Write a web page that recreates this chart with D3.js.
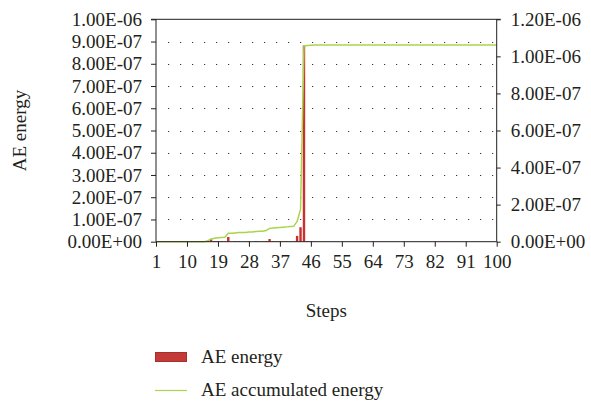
<!DOCTYPE html>
<html>
<head>
<meta charset="utf-8">
<script src="https://cdn.jsdelivr.net/npm/d3@7"></script>
<style>
  body { margin: 0; background: #fff; }
  svg { display: block; }
  text { font-family: "Liberation Serif", "Times New Roman", serif; fill: #231f20; }
</style>
</head>
<body>
<div id="chart"></div>
<script>
// steps 1..100
let steps = d3.range(1, 101);

// AE energy per step (left axis)
let aeEnergy = [
  0, 0, 0, 0, 0, 0, 0, 0, 0, 0,
  0, 0, 0, 0, 0, 4e-9, 1.1e-8, 3e-9, 3e-9, 2e-9,
  1e-9, 2.1e-8, 0, 2e-9, 2e-9, 0, 1e-9, 2e-9, 0, 3e-9,
  1e-9, 1e-9, 3e-9, 1.2e-8, 2e-9, 1.5e-9, 1.5e-9, 1.5e-9, 1.5e-9, 1.5e-9,
  1.5e-9, 2.6e-8, 6.5e-8, 8.82e-7, 2e-9, 2e-9, 1e-9, 0, 0, 0,
  0, 0, 0, 0, 0, 0, 0, 0, 0, 0,
  0, 0, 0, 0, 0, 0, 0, 0, 0, 0,
  0, 0, 0, 0, 0, 0, 0, 0, 0, 0,
  0, 0, 0, 0, 0, 0, 0, 0, 0, 0,
  0, 0, 0, 0, 0, 0, 0, 0, 0, 0
];

// AE accumulated energy (right axis)
let aeAccum = [
  0, 0, 0, 0, 0, 0, 0, 0, 0, 0,
  0, 0, 0, 0, 0, 4e-9, 1.5e-8, 1.8e-8, 2.1e-8, 2.3e-8,
  2.4e-8, 4.5e-8, 4.5e-8, 4.7e-8, 4.9e-8, 4.9e-8, 5.0e-8, 5.2e-8, 5.2e-8, 5.5e-8,
  5.6e-8, 5.7e-8, 6.0e-8, 7.2e-8, 7.4e-8, 7.55e-8, 7.7e-8, 7.85e-8, 8.0e-8, 8.15e-8,
  8.3e-8, 1.09e-7, 1.74e-7, 1.056e-6, 1.058e-6, 1.06e-6, 1.061e-6, 1.061e-6, 1.061e-6, 1.061e-6,
  1.061e-6, 1.061e-6, 1.061e-6, 1.061e-6, 1.061e-6, 1.061e-6, 1.061e-6, 1.061e-6, 1.061e-6, 1.061e-6,
  1.061e-6, 1.061e-6, 1.061e-6, 1.061e-6, 1.061e-6, 1.061e-6, 1.061e-6, 1.061e-6, 1.061e-6, 1.061e-6,
  1.061e-6, 1.061e-6, 1.061e-6, 1.061e-6, 1.061e-6, 1.061e-6, 1.061e-6, 1.061e-6, 1.061e-6, 1.061e-6,
  1.061e-6, 1.061e-6, 1.061e-6, 1.061e-6, 1.061e-6, 1.061e-6, 1.061e-6, 1.061e-6, 1.061e-6, 1.061e-6,
  1.061e-6, 1.061e-6, 1.061e-6, 1.061e-6, 1.061e-6, 1.061e-6, 1.061e-6, 1.061e-6, 1.061e-6, 1.061e-6
];

// tick values and labels
let xTicks = [1, 10, 19, 28, 37, 46, 55, 64, 73, 82, 91, 100];
let leftTicks = [0, 1e-7, 2e-7, 3e-7, 4e-7, 5e-7, 6e-7, 7e-7, 8e-7, 9e-7, 1e-6];
let leftLabels = ["0.00E+00", "1.00E-07", "2.00E-07", "3.00E-07", "4.00E-07", "5.00E-07",
                  "6.00E-07", "7.00E-07", "8.00E-07", "9.00E-07", "1.00E-06"];
let rightTicks = [0, 2e-7, 4e-7, 6e-7, 8e-7, 1e-6, 1.2e-6];
let rightLabels = ["0.00E+00", "2.00E-07", "4.00E-07", "6.00E-07", "8.00E-07", "1.00E-06", "1.20E-06"];

let w = 591;
let h = 404;
let plotL = 156, plotR = 496.7, plotT = 19.3, plotB = 241.7;

let svg = d3.select("#chart")
    .append("svg")
    .attr("width", w)
    .attr("height", h);

let x = d3.scaleLinear().domain([1, 100]).range([plotL, plotR]);
let yL = d3.scaleLinear().domain([0, 1e-6]).range([plotB, plotT]);
let yR = d3.scaleLinear().domain([0, 1.2e-6]).range([plotB, plotT]);

// dotted gridlines
svg.append("g")
    .selectAll("line")
    .data(leftTicks.slice(1, -1))
    .enter()
    .append("line")
    .attr("x1", plotL + 12)
    .attr("x2", plotR - 2)
    .attr("y1", d => Math.round(yL(d)) + 0.5)
    .attr("y2", d => Math.round(yL(d)) + 0.5)
    .attr("stroke", "#333")
    .attr("stroke-width", 1)
    .attr("stroke-dasharray", "1.2,10.8");

// top line
svg.append("line")
    .attr("x1", plotL - 5).attr("x2", plotR + 4)
    .attr("y1", yL(1e-6)).attr("y2", yL(1e-6))
    .attr("stroke", "#231f20").attr("stroke-width", 1);

// bars
let barW = 2.4;
svg.append("g")
    .selectAll("rect")
    .data(steps.filter((s, i) => aeEnergy[i] > 0))
    .enter()
    .append("rect")
    .attr("x", d => x(d) - barW / 2)
    .attr("y", d => yL(aeEnergy[d - 1]))
    .attr("width", barW)
    .attr("height", d => plotB - yL(aeEnergy[d - 1]))
    .attr("fill", "#c9302a");

// accumulated line
let line = d3.line()
    .x((d, i) => x(steps[i]))
    .y(d => yR(d));

svg.append("path")
    .datum(aeAccum)
    .attr("d", line)
    .attr("fill", "none")
    .attr("stroke", "#a9d44c")
    .attr("stroke-width", 1.5);

// axes
let fontSize = "19px";

let xAxis = d3.axisBottom(x)
    .tickValues(xTicks)
    .tickSize(5)
    .tickPadding(8)
    .tickFormat(d => d);
let gx = svg.append("g")
    .attr("transform", "translate(0," + plotB + ")")
    .call(xAxis);

let yAxisL = d3.axisLeft(yL)
    .tickValues(leftTicks)
    .tickSize(5)
    .tickPadding(9)
    .tickFormat((d, i) => leftLabels[i]);
let gl = svg.append("g")
    .attr("transform", "translate(" + plotL + ",0)")
    .call(yAxisL);

let yAxisR = d3.axisRight(yR)
    .tickValues(rightTicks)
    .tickSize(4)
    .tickPadding(10)
    .tickFormat((d, i) => rightLabels[i]);
let gr = svg.append("g")
    .attr("transform", "translate(" + plotR + ",0)")
    .call(yAxisR);

[gx, gl, gr].forEach(g => {
  g.select(".domain").attr("stroke", "#231f20");
  g.selectAll(".tick line").attr("stroke", "#231f20");
  g.selectAll(".tick text")
    .style("font-family", "Liberation Serif, serif")
    .style("font-size", fontSize)
    .attr("fill", "#231f20");
});
gx.select(".domain").attr("d", "M" + plotL + ",0H" + plotR);
gl.select(".domain").attr("d", "M0," + plotT + "V" + plotB);
gr.select(".domain").attr("d", "M0," + plotT + "V" + plotB);

// axis titles
svg.append("text")
    .attr("transform", "translate(26," + ((plotT + plotB) / 2) + ") rotate(-90)")
    .attr("text-anchor", "middle")
    .style("font-size", fontSize)
    .text("AE energy");

svg.append("text")
    .attr("x", (plotL + plotR) / 2)
    .attr("y", 317)
    .attr("text-anchor", "middle")
    .style("font-size", fontSize)
    .text("Steps");

// legend
let legend = svg.append("g");
legend.append("rect")
    .attr("x", 155.5).attr("y", 352.5)
    .attr("width", 31).attr("height", 9)
    .attr("fill", "#c43a36")
    .attr("stroke", "#a8302c")
    .attr("stroke-width", 1);
legend.append("text")
    .attr("x", 201).attr("y", 363)
    .style("font-size", fontSize)
    .text("AE energy");
legend.append("line")
    .attr("x1", 155).attr("x2", 187)
    .attr("y1", 390.5).attr("y2", 390.5)
    .attr("stroke", "#a9d44c")
    .attr("stroke-width", 1.2);
legend.append("text")
    .attr("x", 201).attr("y", 396)
    .style("font-size", fontSize)
    .text("AE accumulated energy");
</script>
</body>
</html>
